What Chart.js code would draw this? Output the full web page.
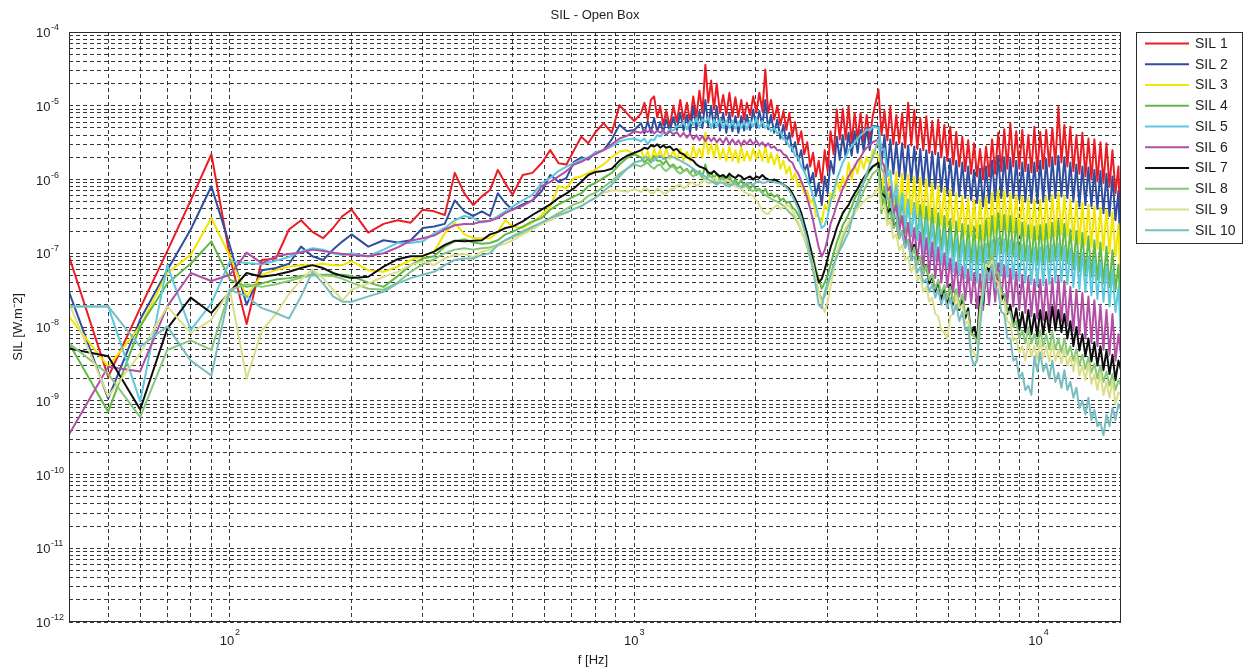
<!DOCTYPE html>
<html>
<head>
<meta charset="utf-8">
<title>SIL - Open Box</title>
<script src="https://cdn.jsdelivr.net/npm/chart.js@4.4.1/dist/chart.umd.min.js"></script>
<style>
  html, body { margin: 0; padding: 0; background: #fff; }
  #wrap { width: 1247px; height: 670px; }
</style>
</head>
<body>
<div id="wrap"><canvas id="sil" width="1247" height="670"></canvas></div>
<script>
// frequency grid [Hz]
const freqs = [
  40, 50, 60, 70, 80, 90, 100, 110, 120, 130, 140, 150, 160, 170, 180, 190, 200,
  220, 240, 260, 280, 300, 320, 340, 360, 380, 400,
  420, 440, 460, 480, 500, 530, 560, 590, 620, 650, 680, 710, 740, 770, 800, 840, 880, 920, 960, 1000,
  1040, 1060, 1080, 1100, 1120, 1140, 1160, 1180, 1200, 1225, 1250, 1275, 1300,
  1325, 1350, 1375, 1400, 1425, 1450, 1475, 1500, 1525, 1550, 1575, 1600, 1630,
  1660, 1690, 1720, 1750, 1780, 1810, 1840, 1870, 1900, 1935, 1970, 2005, 2040,
  2075, 2110, 2145, 2180, 2220, 2260, 2300, 2340, 2380, 2420, 2460, 2500, 2545,
  2590, 2635, 2680, 2725, 2770, 2815, 2860, 2910, 2960, 3010, 3060, 3115, 3170,
  3225, 3280, 3335, 3390, 3450, 3510, 3570, 3630, 3695, 3760, 3825, 3890,
  4020, 4090, 4160, 4230, 4300, 4375, 4450, 4525, 4600, 4680, 4760, 4845, 4930, 5015,
  5100, 5190, 5280, 5370, 5460, 5555, 5650, 5750, 5850, 5950, 6050, 6155, 6260, 6370,
  6480, 6590, 6700, 6815, 6930, 7050, 7170, 7295, 7420, 7550, 7680, 7815, 7950, 8090,
  8230, 8375, 8520, 8665, 8810, 8965, 9120, 9280, 9440, 9605, 9770, 9935, 10100, 10275,
  10450, 10635, 10820, 11010, 11200, 11395, 11590, 11790, 11990, 12200, 12410, 12625, 12840, 13065,
  13290, 13520, 13750, 13990, 14230, 14480, 14730, 14985, 15240, 15505, 15770, 16000
];

// sound intensity level per measurement point [W.m^-2]
const sil1 = [
  9.1e-8, 2.1e-9, 1.8e-8, 1.07e-7, 5.2e-7, 2.2e-6, 8.9e-8, 1.1e-8, 8.1e-8, 8.5e-8, 2.1e-7, 2.8e-7, 1.95e-7, 1.6e-7, 2.2e-7, 3.2e-7, 3.9e-7,
  1.9e-7, 2.5e-7, 2.8e-7, 2.6e-7, 3.9e-7, 3.7e-7, 3.3e-7, 1.23e-6, 6.5e-7, 4.5e-7,
  5.9e-7, 7.2e-7, 1.35e-6, 8.9e-7, 6.2e-7, 1.15e-6, 1.23e-6, 1.66e-6, 2.5e-6, 1.66e-6, 1.6e-6, 2.5e-6, 3.8e-6, 3.1e-6, 4.3e-6, 5.8e-6, 4.3e-6, 1.02e-5, 7.9e-6, 6.2e-6,
  7.9e-6, 1.1e-5, 6.5e-6, 1.2e-5, 1.34e-5, 7e-6, 9.8e-6, 5.5e-6, 8.5e-6, 5.3e-6, 1.0e-5, 6.0e-6, 1.2e-5,
  6.5e-6, 1.1e-5, 6.0e-6, 1.34e-5, 7e-6, 1.6e-5, 8e-6, 3.6e-5, 1.1e-5, 2.2e-5, 8.9e-6, 2.0e-5, 8e-6,
  1.4e-5, 7.5e-6, 1.5e-5, 7.2e-6, 1.3e-5, 7e-6, 1.2e-5, 6.5e-6, 1.1e-5, 7.5e-6, 1.34e-5, 8e-6, 1.5e-5,
  8.5e-6, 3.1e-5, 8e-6, 1.2e-5, 6.5e-6, 1.0e-5, 5.5e-6, 8.5e-6, 4.7e-6, 8.0e-6, 3.8e-6, 6.0e-6, 3.1e-6,
  4.5e-6, 2.2e-6, 3.2e-6, 1.5e-6, 2.3e-6, 1.1e-6, 1.8e-6, 9e-7, 2.5e-6, 1.3e-6, 4.5e-6, 2.2e-6, 8.9e-6,
  3.5e-6, 9e-6, 3.5e-6, 9.8e-6, 3.1e-6, 8e-6, 3.5e-6, 8.0e-6, 3.2e-6, 7.5e-6, 3.5e-6, 7.2e-6,
  1.66e-5, 4.0e-6, 8.5e-6, 3.4e-6, 9.7e-6, 3.0e-6, 7.5e-6, 3.1e-6, 7.9e-6, 2.7e-6, 1.1e-5, 2.9e-6, 8.8e-6, 2.6e-6,
  6.8e-6, 2.5e-6, 7.2e-6, 2.3e-6, 6.2e-6, 2.2e-6, 6.5e-6, 2.0e-6, 5.5e-6, 1.8e-6, 5.2e-6, 1.6e-6, 4.4e-6, 1.5e-6,
  3.8e-6, 1.3e-6, 3.4e-6, 1.2e-6, 3.1e-6, 1.1e-6, 2.6e-6, 1.0e-6, 2.8e-6, 1.1e-6, 3.5e-6, 1.2e-6, 4.3e-6, 1.3e-6,
  4.8e-6, 1.4e-6, 5.8e-6, 1.5e-6, 4.5e-6, 1.4e-6, 4.7e-6, 1.3e-6, 4.0e-6, 1.25e-6, 5.2e-6, 1.3e-6, 4.4e-6, 1.4e-6,
  4.7e-6, 1.5e-6, 5.0e-6, 1.6e-6, 9.7e-6, 1.7e-6, 5.5e-6, 1.5e-6, 5.2e-6, 1.3e-6, 4.0e-6, 1.2e-6, 4.3e-6, 1.1e-6,
  3.6e-6, 1.0e-6, 3.5e-6, 9.5e-7, 3.2e-6, 9e-7, 3.1e-6, 8e-7, 2.5e-6, 6.5e-7, 1.5e-6, 7e-8
];
const sil2 = [
  3.0e-8, 1.07e-9, 1.26e-8, 5.9e-8, 2.1e-7, 8.1e-7, 1.26e-7, 2.0e-8, 5.9e-8, 6.3e-8, 7.2e-8, 1.23e-7, 9.1e-8, 8.1e-8, 1.12e-7, 1.45e-7, 1.8e-7,
  1.23e-7, 1.5e-7, 1.4e-7, 1.5e-7, 2.2e-7, 2.3e-7, 2.5e-7, 5.2e-7, 3.7e-7, 3.2e-7,
  3.7e-7, 3.2e-7, 6.5e-7, 4.8e-7, 3.9e-7, 4.6e-7, 5.2e-7, 6.9e-7, 1.15e-6, 9.3e-7, 1.05e-6, 1.74e-6, 2.0e-6, 1.86e-6, 2.3e-6, 2.5e-6, 3.5e-6, 5.5e-6, 4.5e-6, 4.7e-6,
  5.8e-6, 4.2e-6, 6.2e-6, 4.3e-6, 6.8e-6, 4.5e-6, 6.0e-6, 4.4e-6, 6.5e-6, 4.5e-6, 7.0e-6, 4.7e-6, 8.0e-6,
  4.6e-6, 7.5e-6, 4.3e-6, 9.8e-6, 4.7e-6, 8.5e-6, 5e-6, 1.2e-5, 5.3e-6, 1.0e-5, 5e-6, 9.8e-6, 4.6e-6,
  8.0e-6, 4.3e-6, 8.0e-6, 4.5e-6, 7.2e-6, 4.3e-6, 7.2e-6, 4.6e-6, 7.5e-6, 4.7e-6, 8.9e-6, 5.0e-6, 8.5e-6,
  5.3e-6, 1.2e-5, 4.8e-6, 7.5e-6, 4.3e-6, 6.5e-6, 3.6e-6, 5.5e-6, 3.1e-6, 4.3e-6, 2.4e-6, 3.2e-6, 1.8e-6,
  2.5e-6, 1.3e-6, 1.6e-6, 9e-7, 1.23e-6, 6e-7, 9e-7, 4.5e-7, 1.1e-6, 6.5e-7, 1.8e-6, 1.2e-6, 3.8e-6,
  1.85e-6, 4.0e-6, 2.0e-6, 4.3e-6, 2.1e-6, 4.5e-6, 2.3e-6, 4.7e-6, 2.4e-6, 5.0e-6, 2.5e-6, 5.3e-6,
  5.2e-6, 1.6e-6, 4.0e-6, 1.3e-6, 3.5e-6, 1.2e-6, 3.2e-6, 1.1e-6, 3.1e-6, 1.0e-6, 2.9e-6, 9.5e-7, 2.8e-6, 9e-7,
  2.6e-6, 8.5e-7, 2.5e-6, 8.1e-7, 2.4e-6, 7.5e-7, 2.3e-6, 6.8e-7, 2.0e-6, 6.5e-7, 1.9e-6, 6.2e-7, 1.8e-6, 5.9e-7,
  1.7e-6, 5.6e-7, 1.5e-6, 5.3e-7, 1.35e-6, 4.8e-7, 1.4e-6, 4.3e-7, 1.5e-6, 4.8e-7, 1.8e-6, 5.3e-7, 2.1e-6, 5.6e-7,
  2.0e-6, 5.9e-7, 1.9e-6, 5.6e-7, 1.8e-6, 5.3e-7, 1.7e-6, 5.0e-7, 1.6e-6, 4.8e-7, 1.7e-6, 4.8e-7, 1.8e-6, 5.0e-7,
  1.9e-6, 5.3e-7, 2.0e-6, 5.6e-7, 2.1e-6, 5.9e-7, 2.0e-6, 5.6e-7, 1.7e-6, 5.0e-7, 1.6e-6, 4.3e-7, 1.5e-6, 4.5e-7,
  1.45e-6, 4.3e-7, 1.35e-6, 4.0e-7, 1.3e-6, 3.5e-7, 1.2e-6, 3.2e-7, 1.1e-6, 2.8e-7, 7e-7, 3.7e-8
];
const sil3 = [
  1.38e-8, 2.9e-9, 1.02e-8, 5.4e-8, 9.5e-8, 3.0e-7, 9.1e-8, 2.6e-8, 5.1e-8, 5.9e-8, 6.6e-8, 6.9e-8, 6.9e-8, 7.2e-8, 6.9e-8, 6.9e-8, 7.8e-8,
  5.9e-8, 5.6e-8, 6.6e-8, 8.1e-8, 9.1e-8, 1.05e-7, 1.86e-7, 2.6e-7, 1.8e-7, 1.6e-7,
  1.6e-7, 1.6e-7, 1.95e-7, 2.8e-7, 2.3e-7, 2.2e-7, 2.6e-7, 3.3e-7, 4.3e-7, 8.1e-7, 7.6e-7, 1.05e-6, 1.1e-6, 1.23e-6, 1.35e-6, 1.6e-6, 2.0e-6, 2.4e-6, 2.5e-6, 2.2e-6,
  2.5e-6, 1.9e-6, 2.4e-6, 1.8e-6, 2.6e-6, 2.0e-6, 2.5e-6, 1.9e-6, 2.6e-6, 1.9e-6, 2.5e-6, 1.85e-6, 2.6e-6,
  1.8e-6, 2.4e-6, 1.8e-6, 2.8e-6, 2.0e-6, 2.6e-6, 2.0e-6, 4.3e-6, 2.2e-6, 3.0e-6, 2.0e-6, 3.1e-6, 1.9e-6,
  2.6e-6, 1.8e-6, 2.8e-6, 1.8e-6, 2.5e-6, 1.7e-6, 2.8e-6, 1.8e-6, 2.4e-6, 1.8e-6, 2.6e-6, 1.9e-6, 2.5e-6,
  1.8e-6, 2.8e-6, 1.7e-6, 2.3e-6, 1.6e-6, 2.2e-6, 1.4e-6, 1.8e-6, 1.2e-6, 1.5e-6, 1.0e-6, 1.2e-6, 8e-7,
  9e-7, 6.5e-7, 7e-7, 4.8e-7, 5.5e-7, 3.2e-7, 3.2e-7, 2.6e-7, 4.5e-7, 3.9e-7, 6.5e-7, 5.5e-7, 1.0e-6,
  7e-7, 1.1e-6, 8e-7, 1.7e-6, 1.0e-6, 1.6e-6, 1.2e-6, 2.0e-6, 1.4e-6, 2.0e-6, 1.6e-6, 2.5e-6,
  2.1e-6, 5.6e-7, 1.6e-6, 4.8e-7, 1.35e-6, 4.3e-7, 1.25e-6, 4.0e-7, 1.2e-6, 3.6e-7, 1.15e-6, 3.4e-7, 1.1e-6, 3.2e-7,
  1.05e-6, 3.0e-7, 1.0e-6, 2.8e-7, 9e-7, 2.6e-7, 8.1e-7, 2.4e-7, 7.6e-7, 2.3e-7, 7.2e-7, 2.2e-7, 6.5e-7, 2.0e-7,
  5.9e-7, 1.8e-7, 5.6e-7, 1.7e-7, 5.3e-7, 1.6e-7, 5.3e-7, 1.5e-7, 5.9e-7, 1.7e-7, 6.5e-7, 1.9e-7, 7.2e-7, 2.1e-7,
  7.0e-7, 2.0e-7, 6.5e-7, 1.9e-7, 6.2e-7, 1.8e-7, 5.9e-7, 1.7e-7, 5.6e-7, 1.6e-7, 5.3e-7, 1.55e-7, 5.3e-7, 1.5e-7,
  5.9e-7, 1.6e-7, 6.2e-7, 1.7e-7, 6.5e-7, 1.8e-7, 6.0e-7, 1.7e-7, 5.3e-7, 1.5e-7, 5.0e-7, 1.35e-7, 4.8e-7, 1.3e-7,
  4.5e-7, 1.23e-7, 4.3e-7, 1.15e-7, 4.1e-7, 1.1e-7, 3.9e-7, 1.0e-7, 3.6e-7, 9e-8, 2.5e-7, 2.3e-8
];
const sil4 = [
  6.0e-9, 7.1e-10, 1.02e-8, 3.9e-8, 7.2e-8, 1.45e-7, 4.4e-8, 3.5e-8, 3.9e-8, 4.4e-8, 4.6e-8, 4.9e-8, 5.1e-8, 5.1e-8, 5.1e-8, 5.1e-8, 4.9e-8,
  4.0e-8, 3.5e-8, 4.9e-8, 6.9e-8, 8.5e-8, 9.1e-8, 1.23e-7, 1.45e-7, 1.55e-7, 1.4e-7,
  1.35e-7, 1.38e-7, 1.5e-7, 1.8e-7, 1.95e-7, 2.3e-7, 2.7e-7, 3.0e-7, 3.9e-7, 4.6e-7, 5.2e-7, 5.9e-7, 6.5e-7, 8.1e-7, 8.9e-7, 1.05e-6, 1.23e-6, 1.6e-6, 1.95e-6, 2.2e-6,
  2.0e-6, 1.7e-6, 1.9e-6, 1.7e-6, 2.1e-6, 1.8e-6, 1.8e-6, 1.6e-6, 1.8e-6, 1.5e-6, 1.6e-6, 1.4e-6, 1.5e-6,
  1.3e-6, 1.4e-6, 1.2e-6, 1.4e-6, 1.15e-6, 1.3e-6, 1.1e-6, 1.6e-6, 1.1e-6, 1.25e-6, 1.05e-6, 1.2e-6, 1.0e-6,
  1.1e-6, 9.5e-7, 1.1e-6, 9e-7, 1.0e-6, 8.5e-7, 1.0e-6, 8e-7, 8.8e-7, 7.5e-7, 8.5e-7, 7e-7, 7.5e-7,
  6.5e-7, 7.5e-7, 6.2e-7, 6.5e-7, 5.8e-7, 6.2e-7, 5.2e-7, 5.5e-7, 4.8e-7, 5.0e-7, 4.2e-7, 3.9e-7, 3.3e-7,
  2.8e-7, 2.1e-7, 1.7e-7, 1.2e-7, 9e-8, 6e-8, 4.5e-8, 3.3e-8, 4e-8, 5e-8, 7e-8, 1.0e-7, 1.4e-7,
  1.8e-7, 2.4e-7, 2.8e-7, 3.4e-7, 4.2e-7, 5.5e-7, 6.5e-7, 7.5e-7, 9e-7, 1.1e-6, 1.3e-6, 1.5e-6,
  1.6e-6, 3.5e-7, 8.0e-7, 2.8e-7, 6.5e-7, 2.4e-7, 6.0e-7, 2.1e-7, 5.9e-7, 1.9e-7, 5.3e-7, 1.7e-7, 4.8e-7, 1.6e-7,
  4.5e-7, 1.45e-7, 4.3e-7, 1.3e-7, 3.9e-7, 1.2e-7, 3.5e-7, 1.1e-7, 3.2e-7, 1.0e-7, 2.9e-7, 9e-8, 2.7e-7, 8.5e-8,
  2.5e-7, 8e-8, 2.4e-7, 7.5e-8, 2.3e-7, 7e-8, 2.4e-7, 7.5e-8, 2.8e-7, 8.5e-8, 3.2e-7, 9.5e-8, 3.5e-7, 1.0e-7,
  3.3e-7, 9.5e-8, 3.2e-7, 9e-8, 2.8e-7, 8.5e-8, 2.6e-7, 8e-8, 2.4e-7, 7.5e-8, 2.3e-7, 7e-8, 2.4e-7, 7.3e-8,
  2.5e-7, 7.6e-8, 2.6e-7, 8e-8, 2.8e-7, 8.1e-8, 2.5e-7, 7.3e-8, 2.1e-7, 6.2e-8, 2.0e-7, 5.6e-8, 1.9e-7, 5.2e-8,
  1.7e-7, 4.8e-8, 1.5e-7, 4.4e-8, 1.4e-7, 3.9e-8, 1.23e-7, 3.5e-8, 1.1e-7, 3.2e-8, 7e-8, 1.26e-8
];
const sil5 = [
  1.9e-8, 1.9e-8, 9.8e-10, 6.9e-8, 9.1e-9, 2.1e-8, 7.8e-8, 7.4e-8, 7.1e-8, 7.9e-8, 8.9e-8, 1.05e-7, 1.17e-7, 1.12e-7, 1.0e-7, 9.5e-8, 1.0e-7,
  9.1e-8, 1.12e-7, 1.38e-7, 1.38e-7, 1.45e-7, 1.86e-7, 2.2e-7, 2.8e-7, 3.2e-7, 3.0e-7,
  2.6e-7, 2.75e-7, 3.2e-7, 3.7e-7, 4.3e-7, 5.2e-7, 6.2e-7, 8.9e-7, 1.05e-6, 1.3e-6, 1.5e-6, 1.66e-6, 1.86e-6, 2.0e-6, 2.3e-6, 2.5e-6, 2.8e-6, 3.3e-6, 3.5e-6, 3.6e-6,
  3.3e-6, 3.6e-6, 3.0e-6, 3.5e-6, 3.4e-6, 4.0e-6, 3.8e-6, 4.3e-6, 4.2e-6, 4.8e-6, 4.6e-6, 5.3e-6, 5.3e-6,
  6.0e-6, 4.8e-6, 6.2e-6, 5.5e-6, 6.8e-6, 5.2e-6, 6.5e-6, 6.0e-6, 7.0e-6, 5.0e-6, 6.5e-6, 5.2e-6, 6.6e-6,
  5.0e-6, 6.3e-6, 5.0e-6, 6.2e-6, 4.9e-6, 6.0e-6, 5.0e-6, 6.1e-6, 4.8e-6, 6.3e-6, 5.2e-6, 6.8e-6, 5.0e-6,
  6.2e-6, 5.0e-6, 5.6e-6, 4.5e-6, 5.0e-6, 4.2e-6, 4.5e-6, 3.5e-6, 3.4e-6, 2.8e-6, 2.7e-6, 2.1e-6, 2.0e-6,
  1.5e-6, 1.3e-6, 1.0e-6, 8e-7, 6.0e-7, 4.4e-7, 3.0e-7, 2.2e-7, 2.4e-7, 3.2e-7, 5.0e-7, 7e-7, 1.0e-6,
  1.3e-6, 1.7e-6, 2.0e-6, 2.5e-6, 2.8e-6, 3.2e-6, 3.6e-6, 4.0e-6, 4.3e-6, 4.8e-6, 4.6e-6, 5.2e-6,
  5.0e-6, 2.5e-6, 2.6e-6, 1.1e-6, 1.3e-6, 5.0e-7, 8.5e-7, 3.2e-7, 6.5e-7, 2.3e-7, 5.3e-7, 1.8e-7, 4.5e-7, 1.5e-7,
  3.2e-7, 1.0e-7, 2.8e-7, 9e-8, 2.5e-7, 8e-8, 2.2e-7, 7e-8, 2.0e-7, 6.3e-8, 1.8e-7, 5.6e-8, 1.6e-7, 5e-8,
  1.5e-7, 4.6e-8, 1.4e-7, 4.3e-8, 1.3e-7, 4e-8, 1.25e-7, 3.9e-8, 1.35e-7, 4.3e-8, 1.5e-7, 4.8e-8, 1.6e-7, 5e-8,
  1.55e-7, 4.8e-8, 1.5e-7, 4.5e-8, 1.4e-7, 4.2e-8, 1.3e-7, 4e-8, 1.25e-7, 3.8e-8, 1.2e-7, 3.6e-8, 1.2e-7, 3.7e-8,
  1.25e-7, 3.8e-8, 1.3e-7, 4e-8, 1.35e-7, 4.1e-8, 1.25e-7, 3.8e-8, 1.15e-7, 3.5e-8, 1.05e-7, 3.2e-8, 1.0e-7, 3.0e-8,
  9e-8, 2.7e-8, 8.5e-8, 2.4e-8, 7.6e-8, 2.2e-8, 6.8e-8, 1.9e-8, 6.0e-8, 1.6e-8, 3.5e-8, 6.7e-9
];
const sil6 = [
  3.5e-10, 2.9e-9, 2.5e-9, 1.9e-8, 5.4e-8, 4.2e-8, 5.1e-8, 1.02e-7, 7.3e-8, 9.1e-8, 9.8e-8, 1.02e-7, 1.12e-7, 1.07e-7, 1.02e-7, 9.8e-8, 9.5e-8,
  9.1e-8, 1.0e-7, 1.2e-7, 1.48e-7, 1.6e-7, 1.74e-7, 2.1e-7, 2.4e-7, 2.5e-7, 2.5e-7,
  2.7e-7, 2.75e-7, 3.0e-7, 3.5e-7, 3.9e-7, 4.4e-7, 5.2e-7, 8.1e-7, 9.3e-7, 1.1e-6, 1.3e-6, 1.6e-6, 1.74e-6, 1.95e-6, 2.2e-6, 2.5e-6, 3.0e-6, 3.6e-6, 3.9e-6, 4.5e-6,
  4.3e-6, 4.7e-6, 4.4e-6, 4.8e-6, 4.2e-6, 4.6e-6, 4.3e-6, 4.7e-6, 4.0e-6, 4.5e-6, 4.1e-6, 4.4e-6, 3.8e-6,
  4.3e-6, 3.7e-6, 4.2e-6, 3.5e-6, 4.0e-6, 3.4e-6, 3.9e-6, 3.3e-6, 3.8e-6, 3.3e-6, 3.7e-6, 3.2e-6, 3.6e-6,
  3.1e-6, 3.7e-6, 3.0e-6, 3.5e-6, 3.0e-6, 3.4e-6, 2.9e-6, 3.4e-6, 3.0e-6, 3.5e-6, 3.0e-6, 3.4e-6, 2.9e-6,
  3.2e-6, 2.8e-6, 3.1e-6, 2.7e-6, 2.8e-6, 2.5e-6, 2.5e-6, 2.2e-6, 2.1e-6, 1.8e-6, 1.7e-6, 1.4e-6, 1.2e-6,
  9.5e-7, 7.5e-7, 5.5e-7, 4e-7, 2.8e-7, 1.8e-7, 1.2e-7, 9e-8, 1.1e-7, 1.6e-7, 2.5e-7, 3.3e-7, 4.5e-7,
  5.8e-7, 7.5e-7, 9e-7, 1.1e-6, 1.3e-6, 1.5e-6, 1.8e-6, 2.0e-6, 2.4e-6, 2.7e-6, 2.9e-6, 3.2e-6,
  3.5e-6, 1.8e-6, 1.5e-6, 7e-7, 8e-7, 3.5e-7, 4.5e-7, 2.0e-7, 3.2e-7, 1.3e-7, 2.6e-7, 1.0e-7, 2.2e-7, 8e-8,
  1.9e-7, 6.6e-8, 1.6e-7, 5.4e-8, 1.4e-7, 4.6e-8, 1.2e-7, 4e-8, 1.0e-7, 3.5e-8, 8.5e-8, 3e-8, 7.5e-8, 2.6e-8,
  6.6e-8, 2.3e-8, 6e-8, 2.1e-8, 5.4e-8, 1.8e-8, 5.2e-8, 1.7e-8, 6.0e-8, 2.0e-8, 6.6e-8, 2.2e-8, 7.3e-8, 2.3e-8,
  6.8e-8, 2.1e-8, 6.2e-8, 1.9e-8, 5.6e-8, 1.7e-8, 5.1e-8, 1.55e-8, 4.8e-8, 1.4e-8, 4.4e-8, 1.3e-8, 4.4e-8, 1.25e-8,
  4.4e-8, 1.2e-8, 4.6e-8, 1.2e-8, 4.8e-8, 1.2e-8, 4.2e-8, 1.05e-8, 3.5e-8, 9e-9, 3.2e-8, 8e-9, 2.9e-8, 7e-9,
  2.6e-8, 6.2e-9, 2.3e-8, 5.5e-9, 2.0e-8, 4.9e-9, 1.7e-8, 4.2e-9, 1.5e-8, 3.5e-9, 8e-9, 4.2e-9
];
const sil7 = [
  5.1e-9, 4.0e-9, 7.6e-10, 9.5e-9, 2.5e-8, 1.55e-8, 3.0e-8, 5.4e-8, 4.8e-8, 5.1e-8, 5.6e-8, 6.3e-8, 6.9e-8, 6.3e-8, 5.4e-8, 4.9e-8, 4.6e-8,
  4.8e-8, 6.6e-8, 8.3e-8, 9.1e-8, 9.2e-8, 1.05e-7, 1.3e-7, 1.48e-7, 1.45e-7, 1.48e-7,
  1.5e-7, 1.8e-7, 1.95e-7, 2.2e-7, 2.3e-7, 2.7e-7, 3.3e-7, 3.9e-7, 4.6e-7, 5.6e-7, 6.5e-7, 7.6e-7, 9.3e-7, 1.15e-6, 1.26e-6, 1.3e-6, 1.4e-6, 1.8e-6, 2.1e-6, 2.3e-6,
  2.5e-6, 2.7e-6, 2.6e-6, 2.9e-6, 2.8e-6, 3.0e-6, 2.7e-6, 2.9e-6, 2.7e-6, 2.8e-6, 2.5e-6, 2.6e-6, 2.3e-6,
  2.2e-6, 2.0e-6, 1.9e-6, 1.8e-6, 1.6e-6, 1.5e-6, 1.45e-6, 1.4e-6, 1.25e-6, 1.2e-6, 1.3e-6, 1.2e-6, 1.1e-6,
  1.15e-6, 1.05e-6, 1.2e-6, 1.1e-6, 1.05e-6, 1.15e-6, 1.1e-6, 1.0e-6, 1.05e-6, 1.1e-6, 1.0e-6, 1.1e-6, 1.05e-6,
  1.15e-6, 1.05e-6, 1.0e-6, 9.5e-7, 1.0e-6, 9.5e-7, 9e-7, 8.5e-7, 8e-7, 7.5e-7, 6.5e-7, 5.5e-7, 4.5e-7,
  3.5e-7, 2.5e-7, 1.8e-7, 1.2e-7, 8e-8, 5.5e-8, 4e-8, 4.5e-8, 6e-8, 8.5e-8, 1.2e-7, 1.6e-7, 2.2e-7,
  2.8e-7, 3.5e-7, 4e-7, 4.5e-7, 5.5e-7, 6.5e-7, 7.5e-7, 9e-7, 1.05e-6, 1.2e-6, 1.35e-6, 1.5e-6,
  1.7e-6, 6.5e-7, 6.0e-7, 3.5e-7, 4.0e-7, 2.2e-7, 2.6e-7, 1.6e-7, 2.0e-7, 1.2e-7, 1.5e-7, 9e-8, 1.3e-7, 7.5e-8,
  9e-8, 5.3e-8, 7e-8, 3.9e-8, 5e-8, 3.0e-8, 4.2e-8, 2.4e-8, 3.5e-8, 2.1e-8, 3.8e-8, 2.0e-8, 3.2e-8, 1.7e-8,
  2.6e-8, 1.3e-8, 1.8e-8, 8e-9, 1.0e-8, 7e-9, 2.6e-8, 2.0e-8, 7.5e-8, 5.5e-8, 9e-8, 4.5e-8, 4.2e-8, 2.3e-8,
  2.8e-8, 1.5e-8, 2.0e-8, 1.1e-8, 1.8e-8, 9e-9, 1.6e-8, 8.5e-9, 1.7e-8, 8e-9, 1.5e-8, 7.5e-9, 1.7e-8, 8e-9,
  1.6e-8, 8.5e-9, 1.9e-8, 9e-9, 1.7e-8, 8.5e-9, 1.5e-8, 7e-9, 1.2e-8, 5.5e-9, 1.0e-8, 4.8e-9, 8e-9, 4e-9,
  7e-9, 3.4e-9, 6.2e-9, 3e-9, 5.5e-9, 2.6e-9, 4.8e-9, 2.3e-9, 4.2e-9, 1.9e-9, 3.5e-9, 2.6e-9
];
const sil8 = [
  6.0e-9, 2.3e-9, 6.0e-10, 4.9e-9, 6.6e-9, 4.9e-9, 3.2e-8, 3.8e-8, 3.5e-8, 3.8e-8, 4.2e-8, 4.7e-8, 5.0e-8, 5.0e-8, 4.9e-8, 4.5e-8, 4.0e-8,
  3.3e-8, 3.2e-8, 4.0e-8, 5.6e-8, 7.1e-8, 8.3e-8, 1.0e-7, 1.12e-7, 1.17e-7, 1.12e-7,
  1.17e-7, 1.2e-7, 1.3e-7, 1.5e-7, 1.66e-7, 1.9e-7, 2.2e-7, 2.5e-7, 3.0e-7, 3.5e-7, 4.0e-7, 4.6e-7, 5.0e-7, 6.0e-7, 6.6e-7, 7.9e-7, 9.5e-7, 1.2e-6, 1.4e-6, 1.6e-6,
  1.5e-6, 1.6e-6, 1.7e-6, 1.5e-6, 1.4e-6, 1.55e-6, 1.6e-6, 1.4e-6, 1.3e-6, 1.45e-6, 1.5e-6, 1.3e-6, 1.2e-6,
  1.3e-6, 1.35e-6, 1.2e-6, 1.1e-6, 1.2e-6, 1.2e-6, 1.05e-6, 1.0e-6, 1.1e-6, 1.1e-6, 9.5e-7, 9e-7, 1.0e-6,
  1.0e-6, 8.8e-7, 8.5e-7, 9.2e-7, 9e-7, 7.8e-7, 7.5e-7, 8.2e-7, 8e-7, 7.2e-7, 7e-7, 7.5e-7, 7.2e-7,
  6.5e-7, 6.2e-7, 5.8e-7, 5.5e-7, 5.2e-7, 5.0e-7, 4.7e-7, 4.4e-7, 4.0e-7, 3.6e-7, 3.3e-7, 3.0e-7, 2.5e-7,
  2.0e-7, 1.6e-7, 1.2e-7, 8.5e-8, 6e-8, 4.2e-8, 3e-8, 2.4e-8, 2.6e-8, 3.6e-8, 5e-8, 7e-8, 9e-8,
  1.2e-7, 1.6e-7, 2.0e-7, 2.4e-7, 2.9e-7, 3.5e-7, 4.4e-7, 5.5e-7, 7e-7, 8.5e-7, 1.0e-6, 1.2e-6,
  1.4e-6, 6e-7, 5.5e-7, 3.2e-7, 3.6e-7, 2.2e-7, 2.5e-7, 1.6e-7, 1.9e-7, 1.2e-7, 1.5e-7, 9e-8, 1.2e-7, 7e-8,
  9e-8, 5.3e-8, 6.8e-8, 4.3e-8, 5.2e-8, 3.3e-8, 4.4e-8, 2.8e-8, 3.7e-8, 2.4e-8, 3.5e-8, 2.2e-8, 3.2e-8, 2.0e-8,
  2.8e-8, 1.5e-8, 1.6e-8, 8e-9, 7.5e-9, 6e-9, 1.8e-8, 3.5e-8, 7.5e-8, 6.5e-8, 1.0e-7, 5.5e-8, 5.5e-8, 2.8e-8,
  2.8e-8, 1.6e-8, 1.6e-8, 1.0e-8, 1.2e-8, 7e-9, 9e-9, 6e-9, 1.0e-8, 6e-9, 8e-9, 5.5e-9, 9e-9, 5.5e-9,
  8e-9, 5e-9, 8.5e-9, 5e-9, 7e-9, 4.5e-9, 7e-9, 4.2e-9, 5.5e-9, 3.5e-9, 5e-9, 3.0e-9, 4.2e-9, 2.7e-9,
  3.9e-9, 2.4e-9, 3.2e-9, 2.0e-9, 3.0e-9, 1.8e-9, 2.5e-9, 1.6e-9, 2.3e-9, 1.4e-9, 1.9e-9, 1.6e-9
];
const sil9 = [
  2.1e-8, 1.15e-9, 4.4e-9, 1.9e-8, 8.3e-9, 1.26e-8, 3.2e-8, 2.0e-9, 9e-9, 1.5e-8, 2.8e-8, 4.4e-8, 6.0e-8, 4.6e-8, 3.2e-8, 2.3e-8, 3.2e-8,
  3.9e-8, 4.8e-8, 5.6e-8, 6.9e-8, 7.8e-8, 6.9e-8, 8.5e-8, 9.5e-8, 9.8e-8, 8.9e-8,
  1.05e-7, 1.12e-7, 1.26e-7, 1.35e-7, 1.5e-7, 1.8e-7, 2.1e-7, 2.5e-7, 2.8e-7, 3.2e-7, 3.5e-7, 4.0e-7, 4.5e-7, 5.0e-7, 5.6e-7, 6.6e-7, 7.1e-7, 7.1e-7, 6.8e-7, 7.4e-7,
  6.8e-7, 7.6e-7, 7.4e-7, 6.5e-7, 6.6e-7, 7.5e-7, 7.2e-7, 6.4e-7, 6.5e-7, 7.3e-7, 7.5e-7, 8.2e-7, 8.5e-7,
  7.6e-7, 8.0e-7, 9.2e-7, 9.0e-7, 8.2e-7, 8.5e-7, 9.5e-7, 1.0e-6, 8.8e-7, 9.0e-7, 1.05e-6, 1.0e-6, 9.2e-7,
  9.0e-7, 1.0e-6, 9.5e-7, 8.5e-7, 8.0e-7, 7.8e-7, 7.5e-7, 6.8e-7, 6.5e-7, 6.2e-7, 6.0e-7, 5.2e-7, 4.5e-7,
  3.8e-7, 3.5e-7, 3.4e-7, 3.8e-7, 4.2e-7, 4.5e-7, 4.0e-7, 4.2e-7, 4.5e-7, 4.3e-7, 3.8e-7, 3.2e-7, 2.6e-7,
  2.0e-7, 1.6e-7, 1.3e-7, 9.5e-8, 7.0e-8, 4.5e-8, 3.0e-8, 2.0e-8, 1.6e-8, 2.2e-8, 3.5e-8, 6e-8, 1.0e-7,
  1.4e-7, 1.8e-7, 2.2e-7, 2.6e-7, 3.1e-7, 3.6e-7, 4.0e-7, 4.5e-7, 5.0e-7, 5.5e-7, 5.8e-7, 6.0e-7,
  8e-7, 4e-7, 4.5e-7, 2.4e-7, 2.8e-7, 1.6e-7, 1.8e-7, 1.1e-7, 1.3e-7, 8e-8, 9e-8, 5.5e-8, 7e-8, 4.2e-8,
  5e-8, 3.0e-8, 3.5e-8, 2.2e-8, 2.5e-8, 1.5e-8, 1.4e-8, 9e-9, 8.5e-9, 7e-9, 1.4e-8, 1.5e-8, 2.7e-8, 1.8e-8,
  2.0e-8, 1.1e-8, 1.2e-8, 5e-9, 4.5e-9, 3.5e-9, 1.4e-8, 3.0e-8, 7e-8, 6.5e-8, 8e-8, 4.5e-8, 4e-8, 2.2e-8,
  2.2e-8, 1.2e-8, 1.1e-8, 6.5e-9, 7e-9, 4.5e-9, 5.5e-9, 3.5e-9, 6.5e-9, 4e-9, 5.5e-9, 3.6e-9, 6.5e-9, 3.8e-9,
  5.5e-9, 3.4e-9, 6e-9, 3.5e-9, 5e-9, 3.2e-9, 5.2e-9, 3.0e-9, 4.0e-9, 2.5e-9, 4.2e-9, 2.2e-9, 3.0e-9, 1.9e-9,
  3.2e-9, 1.7e-9, 2.3e-9, 1.4e-9, 2.4e-9, 1.2e-9, 1.8e-9, 1.1e-9, 1.9e-9, 9e-10, 1.3e-9, 1.2e-9
];
const sil10 = [
  1.9e-8, 1.9e-8, 5.4e-9, 1.02e-8, 3.5e-9, 2.2e-9, 3.2e-8, 2.6e-8, 1.8e-8, 1.55e-8, 1.3e-8, 2.6e-8, 5.6e-8, 3.9e-8, 2.6e-8, 2.2e-8, 2.2e-8,
  2.6e-8, 3.0e-8, 3.9e-8, 4.6e-8, 5.1e-8, 5.6e-8, 6.9e-8, 8.1e-8, 8.5e-8, 8.5e-8,
  9.5e-8, 1.0e-7, 1.3e-7, 1.5e-7, 1.7e-7, 2.0e-7, 2.3e-7, 2.6e-7, 3.0e-7, 3.3e-7, 3.6e-7, 4.0e-7, 4.3e-7, 5.0e-7, 5.6e-7, 7.0e-7, 8.5e-7, 1.1e-6, 1.4e-6, 1.7e-6,
  1.8e-6, 2.0e-6, 2.0e-6, 1.8e-6, 1.8e-6, 2.0e-6, 2.1e-6, 1.9e-6, 1.9e-6, 2.1e-6, 2.0e-6, 1.9e-6, 1.8e-6,
  1.7e-6, 1.6e-6, 1.5e-6, 1.4e-6, 1.3e-6, 1.2e-6, 1.15e-6, 1.1e-6, 1.0e-6, 9.5e-7, 9.0e-7, 8.5e-7, 9.2e-7,
  9.0e-7, 8.2e-7, 8.0e-7, 8.6e-7, 8.8e-7, 8.2e-7, 8.0e-7, 8.6e-7, 9.0e-7, 8.8e-7, 8.5e-7, 9.2e-7, 9.5e-7,
  9.0e-7, 9.0e-7, 9.6e-7, 9.5e-7, 9.2e-7, 9.0e-7, 8.8e-7, 8.5e-7, 7.8e-7, 7.0e-7, 6.0e-7, 5.0e-7, 4.0e-7,
  3.0e-7, 2.1e-7, 1.5e-7, 9.5e-8, 6.0e-8, 3.5e-8, 2.0e-8, 1.8e-8, 3.0e-8, 4.0e-8, 5.0e-8, 7.0e-8, 9.0e-8,
  1.1e-7, 1.3e-7, 1.6e-7, 1.9e-7, 2.8e-7, 4.0e-7, 5.2e-7, 7.0e-7, 9.5e-7, 1.2e-6, 1.6e-6, 2.0e-6,
  3.5e-6, 1.4e-6, 1.2e-6, 5.5e-7, 5.5e-7, 3e-7, 3.2e-7, 1.8e-7, 2.0e-7, 1.2e-7, 1.4e-7, 8e-8, 9e-8, 5.5e-8,
  6.5e-8, 4e-8, 4.5e-8, 3e-8, 3.8e-8, 2.5e-8, 3.2e-8, 2e-8, 2.8e-8, 1.8e-8, 2.5e-8, 1.5e-8, 2.0e-8, 1.2e-8,
  1.6e-8, 9e-9, 1.0e-8, 4e-9, 3.0e-9, 3.5e-9, 1.0e-8, 2.5e-8, 6e-8, 5e-8, 7e-8, 3.5e-8, 3.0e-8, 1.6e-8,
  1.5e-8, 7e-9, 7e-9, 3.5e-9, 3.8e-9, 2e-9, 2.4e-9, 1.4e-9, 1.6e-9, 1.2e-9, 4e-9, 2.5e-9, 4.5e-9, 2.5e-9,
  3.2e-9, 2e-9, 3.5e-9, 1.8e-9, 2.4e-9, 1.5e-9, 2.6e-9, 1.4e-9, 1.8e-9, 1.1e-9, 1.5e-9, 8e-10, 1.0e-9, 6.5e-10,
  1.1e-9, 5.5e-10, 7.5e-10, 4.5e-10, 5e-10, 3.4e-10, 6.5e-10, 4.5e-10, 8e-10, 5.5e-10, 9e-10, 7.5e-10
];

const seriesNames = ['SIL 1', 'SIL 2', 'SIL 3', 'SIL 4', 'SIL 5', 'SIL 6', 'SIL 7', 'SIL 8', 'SIL 9', 'SIL 10'];
const seriesColors = ['#ec1c24', '#2f4e9f', '#f2e500', '#62b946', '#5ec8dc', '#b24fa6', '#0d0d0d', '#86c878', '#dcdf8a', '#78bec0'];

// axis ranges, labelled decades and grid mantissas
const xRange = [40, 16000];
const yRange = [1e-12, 1e-4];
const xLabelTicks = [100, 1000, 10000];
const yLabelTicks = [1e-4, 1e-5, 1e-6, 1e-7, 1e-8, 1e-9, 1e-10, 1e-11, 1e-12];
const gridMantissas = [1, 2, 3, 4, 5, 6, 7, 8, 9];

const chartTitle = 'SIL - Open Box';
const xTitle = 'f [Hz]';
const yTitle = 'SIL [W.m\u207B2]';

const FONT = '"Liberation Sans", Arial, Helvetica, sans-serif';

function logGrid(lo, hi) {
  const out = [];
  for (let e = Math.floor(Math.log10(lo)); e <= Math.ceil(Math.log10(hi)); e++) {
    gridMantissas.forEach(m => {
      const v = m * Math.pow(10, e);
      if (v >= lo * 0.999 && v <= hi * 1.001) out.push(v);
    });
  }
  return out;
}

const allSeries = [sil1, sil2, sil3, sil4, sil5, sil6, sil7, sil8, sil9, sil10];

const datasets = allSeries.map((vals, i) => ({
  label: seriesNames[i],
  data: vals.map((v, j) => ({ x: freqs[j], y: v })),
  borderColor: seriesColors[i],
  backgroundColor: seriesColors[i],
  borderWidth: 2,
  borderJoinStyle: 'round',
  pointRadius: 0,
  tension: 0,
  fill: false,
  order: allSeries.length - i   // later series drawn on top
}));

const gridStyle = { color: 'rgba(20,20,20,0.85)', lineWidth: 1, drawTicks: false };

// title, decade labels, axis titles, frame and legend
const decorations = {
  id: 'decorations',
  afterDraw(chart) {
    const { ctx, chartArea: a, scales } = chart;
    ctx.save();
    ctx.setLineDash([]);

    ctx.strokeStyle = '#2a2a2a';
    ctx.lineWidth = 1;
    ctx.strokeRect(a.left + 0.5, a.top + 0.5, a.right - a.left - 1, a.bottom - a.top - 1);

    ctx.fillStyle = '#1e1e1e';
    ctx.textBaseline = 'alphabetic';

    ctx.font = '13px ' + FONT;
    ctx.textAlign = 'center';
    ctx.fillText(chartTitle, (a.left + a.right) / 2, 19);

    xLabelTicks.forEach(v => {
      const px = scales.x.getPixelForValue(v);
      const ex = String(Math.round(Math.log10(v)));
      ctx.font = '13px ' + FONT;
      const w1 = ctx.measureText('10').width;
      ctx.font = '9px ' + FONT;
      const w2 = ctx.measureText(ex).width;
      const left = px - (w1 + w2 + 1) / 2;
      ctx.textAlign = 'left';
      ctx.font = '13px ' + FONT;
      ctx.fillText('10', left, a.bottom + 23);
      ctx.font = '9px ' + FONT;
      ctx.fillText(ex, left + w1 + 1, a.bottom + 13);
    });

    yLabelTicks.forEach(v => {
      const py = scales.y.getPixelForValue(v);
      const ex = String(Math.round(Math.log10(v)));
      ctx.textAlign = 'left';
      ctx.font = '13px ' + FONT;
      const w1 = ctx.measureText('10').width;
      ctx.fillText('10', 36, py + 5);
      ctx.font = '9px ' + FONT;
      ctx.fillText(ex, 36 + w1 + 0.5, py - 2);
    });

    ctx.font = '13px ' + FONT;
    ctx.textAlign = 'center';
    ctx.fillText(xTitle, 593, 664);

    ctx.save();
    ctx.translate(22, (a.top + a.bottom) / 2);
    ctx.rotate(-Math.PI / 2);
    ctx.fillText(yTitle, 0, 0);
    ctx.restore();

    // legend box
    const lx = 1136, ly = 32, lw = 106, lh = 211;
    ctx.fillStyle = '#fff';
    ctx.fillRect(lx, ly, lw, lh);
    ctx.strokeStyle = '#2a2a2a';
    ctx.lineWidth = 1;
    ctx.strokeRect(lx + 0.5, ly + 0.5, lw, lh);
    chart.data.datasets.forEach((ds, i) => {
      const yy = 43.5 + i * 20.75;
      ctx.strokeStyle = ds.borderColor;
      ctx.lineWidth = 2;
      ctx.beginPath();
      ctx.moveTo(1145, yy);
      ctx.lineTo(1189, yy);
      ctx.stroke();
      ctx.fillStyle = '#1e1e1e';
      ctx.font = '14px ' + FONT;
      ctx.textAlign = 'left';
      ctx.textBaseline = 'middle';
      ctx.fillText(ds.label, 1195, yy + 0.5);
    });

    ctx.restore();
  }
};

new Chart(document.getElementById('sil'), {
  type: 'line',
  data: { datasets },
  options: {
    responsive: false,
    animation: false,
    devicePixelRatio: 1,
    layout: { padding: { top: 32, left: 11, right: 126, bottom: 0 } },
    plugins: {
      legend: { display: false },
      title: { display: false },
      tooltip: { enabled: false }
    },
    scales: {
      x: {
        type: 'logarithmic',
        min: xRange[0],
        max: xRange[1],
        bounds: 'data',
        afterBuildTicks: s => { s.ticks = logGrid(xRange[0], xRange[1]).map(v => ({ value: v })); },
        afterFit: s => { s.height = 48; },
        ticks: { display: false },
        grid: gridStyle,
        border: { display: false, dash: [4, 3] }
      },
      y: {
        type: 'logarithmic',
        min: yRange[0],
        max: yRange[1],
        bounds: 'data',
        afterBuildTicks: s => { s.ticks = logGrid(yRange[0], yRange[1]).map(v => ({ value: v })); },
        afterFit: s => { s.width = 58; },
        ticks: { display: false },
        grid: gridStyle,
        border: { display: false, dash: [4, 3] }
      }
    }
  },
  plugins: [decorations]
});
</script>
</body>
</html>
